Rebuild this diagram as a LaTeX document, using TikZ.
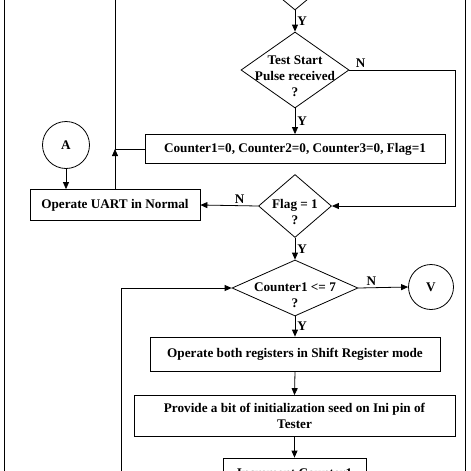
\documentclass[tikz,border=0pt]{standalone}
\usepackage{fontspec}
\setmainfont{Liberation Serif}
\usetikzlibrary{shapes.geometric,arrows.meta}
\begin{document}
\begin{tikzpicture}[x=1pt,y=-1pt,
  font=\bfseries\fontsize{13.2}{16}\selectfont,
  line width=0.8pt,
  arr/.style={-{Triangle[length=7pt,width=6pt]}},
  box/.style={draw, rectangle, inner sep=0pt, align=center},
  dec/.style={draw, diamond, inner sep=0pt},
  conn/.style={draw, circle, inner sep=0pt},
  lbl/.style={inner sep=2pt}]
\useasboundingbox (0,0) rectangle (471,471);
\clip (0,0) rectangle (471,471);
\fill[white] (0,0) rectangle (471,471);
% nodes
\node[dec, minimum width=84pt, minimum height=70pt] (top) at (295,-25) {};
\node[dec, minimum width=108pt, minimum height=76pt] (ts) at (295,70) {};
\node[align=center] (tst) at (295,76) {Test Start\\Pulse received\\?};
\node[box, minimum width=300pt, minimum height=29pt] (cb) at (295,149) {Counter1=0, Counter2=0, Counter3=0, Flag=1};
\node[conn, minimum size=47pt] (A) at (66,145) {A};
\node[box, minimum width=170pt, minimum height=31pt] (ub) at (115,205) {Operate UART in Normal};
\node[dec, minimum width=73pt, minimum height=63pt] (fd) at (295,206) {};
\node[align=center] (fdt) at (295,212) {Flag = 1\\?};
\node[dec, minimum width=126pt, minimum height=56pt] (c1) at (295,288) {};
\node[align=center] (c1t) at (295,295) {Counter1 {<}= 7\\?};
\node[conn, minimum size=45pt] (V) at (431,287) {V};
\node[box, minimum width=290pt, minimum height=34pt] (sb) at (295,354) {Operate both registers in Shift Register mode};
\node[box, minimum width=321pt, minimum height=41pt] (pb) at (294.5,416) {Provide a bit of initialization seed on Ini pin of\\Tester};
\node[box, minimum width=143pt, minimum height=30pt] (ib) at (294.5,473) {Increment Counter1};
% coordinates
\coordinate (r1) at (455,70);
\coordinate (j1) at (115,149);
\coordinate (jt) at (115,-5);
\coordinate (lb) at (121,480);
\coordinate (fl1) at (4,-5);
\coordinate (fl2) at (4,480);
\coordinate (fr1) at (465,-5);
\coordinate (fr2) at (465,480);
% connectors
\draw[arr] (top.south) -- (ts.north) node[midway, right, lbl] {Y};
\draw[arr] (ts.east) -- (r1) |- (fd.east);
\node[lbl, anchor=south west] at ([xshift=4pt]ts.east) {N};
\draw[arr] (ts.south) -- (cb.north) node[midway, right, lbl] {Y};
\draw (cb.west) -- (j1);
\draw[arr] (ub.north) -- (j1);
\draw (j1) -- (jt);
\draw[arr] (A.south) -- (A.south |- ub.north);
\draw[arr] (fd.west) -- (ub.east) node[pos=0.32, above, lbl] {N};
\draw[arr] (fd.south) -- (c1.north) node[midway, right, lbl] {Y};
\draw[arr] (c1.east) -- (V.west) node[pos=0.26, above, lbl] {N};
\draw[arr] (c1.south) -- (sb.north) node[midway, right, lbl] {Y};
\draw[arr] (sb.south) -- (pb.north);
\draw[arr] (pb.south) -- (ib.north);
\draw[arr] (lb) |- (c1.west);
\draw (fl1) -- (fl2);
\draw (fr1) -- (fr2);
\end{tikzpicture}
\end{document}
